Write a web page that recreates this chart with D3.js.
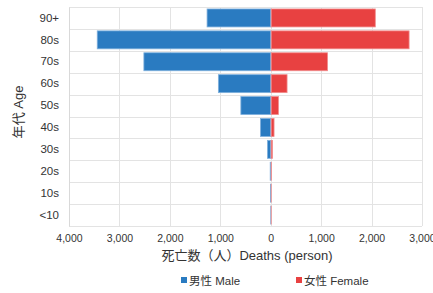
<!DOCTYPE html>
<html>
<head>
<meta charset="utf-8">
<script src="https://cdn.jsdelivr.net/npm/d3@7"></script>
<style>
  body { margin: 0; background: #fff; }
  text { font-family: "Liberation Sans", Arial, "Noto Sans CJK JP", sans-serif; fill: #333; }
</style>
</head>
<body>
<svg id="chart" width="433" height="293"></svg>
<script>
// age groups, top to bottom
const ages = ["90+", "80s", "70s", "60s", "50s", "40s", "30s", "20s", "10s", "<10"];
const male = [1262, 3440, 2515, 1038, 592, 203, 64, 10, 3, 1];
const female = [2064, 2734, 1117, 314, 143, 56, 24, 5, 1, 1];
const xTicks = [-4000, -3000, -2000, -1000, 0, 1000, 2000, 3000];

const blue = "#2a7bc1", red = "#e84141";

const svg = d3.select("#chart");
const m = { top: 7, right: 11, bottom: 67, left: 69 };
const W = 433, H = 293;

const x = d3.scaleLinear().domain([-4000, 3000]).range([m.left, W - m.right]);
const y = d3.scaleBand().domain(ages).range([m.top, H - m.bottom]).paddingInner(0.18).paddingOuter(0.09);

const fmt = d3.format(",");

// grid
const grid = svg.append("g").attr("stroke", "#e3e3e3").attr("stroke-width", 1);
const step = y.step();
d3.range(ages.length + 1).forEach(i => {
  const yy = Math.round(m.top + i * step) + 0.5;
  grid.append("line").attr("x1", m.left).attr("x2", W - m.right).attr("y1", yy).attr("y2", yy);
});
xTicks.forEach(t => {
  grid.append("line").attr("x1", Math.round(x(t)) + 0.5).attr("x2", Math.round(x(t)) + 0.5)
    .attr("y1", m.top).attr("y2", H - m.bottom);
});

// bars
svg.append("g").selectAll("rect").data(ages).join("rect")
  .attr("x", (d, i) => x(-male[i]))
  .attr("y", d => y(d))
  .attr("width", (d, i) => x(0) - x(-male[i]))
  .attr("height", y.bandwidth())
  .attr("fill", blue)
  .attr("stroke", "#7fb0dd").attr("stroke-width", 0.8);

svg.append("g").selectAll("rect").data(ages).join("rect")
  .attr("x", x(0) + 0.5)
  .attr("y", d => y(d))
  .attr("width", (d, i) => x(female[i]) - x(0))
  .attr("height", y.bandwidth())
  .attr("fill", red)
  .attr("stroke", "#f08c8c").attr("stroke-width", 0.8);

// y axis
const yAxis = svg.append("g").attr("transform", `translate(${m.left},0)`)
  .call(d3.axisLeft(y).tickSize(0).tickPadding(10));
yAxis.select(".domain").attr("stroke", "#d9d9d9");
yAxis.selectAll("text").attr("font-size", 11.5).attr("fill", "#333");

// x axis
const xAxis = svg.append("g").attr("transform", `translate(0,${H - m.bottom})`)
  .call(d3.axisBottom(x).tickValues(xTicks).tickSize(0).tickPadding(9)
    .tickFormat(d => fmt(Math.abs(d))));
xAxis.select(".domain").remove();
xAxis.selectAll("text").attr("font-size", 10.5).attr("fill", "#333");

// titles
svg.append("text").attr("x", 247).attr("y", 260).attr("text-anchor", "middle")
  .attr("font-size", 13).text("死亡数（人）Deaths (person)");
svg.append("text").attr("transform", "translate(23,112) rotate(-90)").attr("text-anchor", "middle")
  .attr("font-size", 13).text("年代 Age");

// legend
const legend = [{ label: "男性 Male", color: blue, x: 181 }, { label: "女性 Female", color: red, x: 296 }];
const lg = svg.append("g").selectAll("g").data(legend).join("g")
  .attr("transform", d => `translate(${d.x},281)`);
lg.append("rect").attr("x", 0).attr("y", -4).attr("width", 6).attr("height", 6).attr("fill", d => d.color);
lg.append("text").attr("x", 8).attr("y", 4).attr("font-size", 11.5).text(d => d.label);
</script>
</body>
</html>
